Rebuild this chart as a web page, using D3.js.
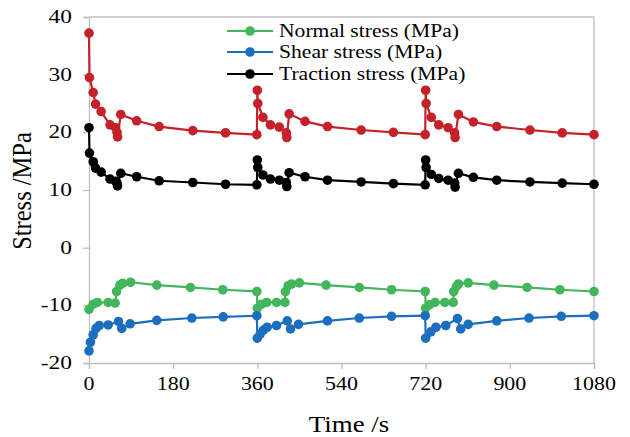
<!DOCTYPE html>
<html><head><meta charset="utf-8">
<script src="https://cdn.jsdelivr.net/npm/d3@7"></script>
<style>
body{margin:0;background:#fff}
text{font-family:"Liberation Serif","Times New Roman",serif;fill:#000}
</style>
</head><body>
<svg id="c" width="630" height="437"></svg>
<script>
const xTicks=[0,180,360,540,720,900,1080];
const yTicks=[-20,-10,0,10,20,30,40];
const legendLabels=["Normal stress (MPa)","Shear stress (MPa)","Traction stress (MPa)"];

const tRB=[0,1,9,14,26,45,57,60,61,68,102,150,222,292,359,
  360,361,372,388,407,422,423,428,462,510,582,651,719,
  720,721,732,748,768,782,783,790,822,872,943,1012,1080];
const red=[37.2,29.5,26.9,24.9,23.6,21.3,20.8,20.0,19.2,23.1,22.0,21.0,20.3,19.9,19.6,
  27.3,25.0,22.6,21.3,20.9,19.9,19.1,23.2,21.9,21.0,20.4,20.0,19.6,
  27.3,25.0,22.6,21.3,20.8,19.9,19.1,23.1,21.8,21.0,20.4,19.9,19.6];
const black=[20.8,16.4,14.9,13.8,13.1,11.9,11.5,11.2,10.7,12.9,12.3,11.6,11.3,11.0,10.9,
  15.2,13.9,12.6,11.9,11.7,11.3,10.6,13.0,12.3,11.7,11.4,11.1,10.9,
  15.2,13.9,12.7,12.0,11.7,11.2,10.5,12.9,12.2,11.7,11.4,11.2,11.0];

const tG=[0,9,18,41,56,59,66,72,89,145,217,286,359,
  360,369,380,401,419,420,426,433,450,507,578,647,719,
  720,728,740,761,779,780,786,790,811,866,937,1007,1080];
const green=[-10.7,-9.8,-9.5,-9.5,-9.6,-7.6,-6.5,-6.2,-6.0,-6.5,-6.9,-7.3,-7.6,
  -10.5,-9.8,-9.5,-9.5,-9.5,-7.6,-6.6,-6.3,-6.1,-6.5,-6.9,-7.3,-7.6,
  -10.5,-9.9,-9.5,-9.5,-9.5,-7.6,-6.7,-6.3,-6.1,-6.5,-6.9,-7.3,-7.6];

const tB=[0,3,9,15,22,41,63,70,88,145,220,287,359,
  360,366,373,381,401,424,431,448,510,578,647,719,
  720,731,742,763,788,795,811,872,941,1010,1080];
const blue=[-17.9,-16.4,-15.1,-14.0,-13.5,-13.4,-12.8,-14.0,-13.2,-12.6,-12.2,-12.0,-11.8,
  -15.7,-15.0,-14.3,-13.8,-13.5,-12.7,-14.1,-13.3,-12.7,-12.2,-11.9,-11.8,
  -15.7,-14.6,-13.8,-13.5,-12.3,-14.1,-13.3,-12.7,-12.2,-11.9,-11.8];

const C={red:"#C4212A",green:"#43B55A",blue:"#1C6EBF",black:"#000000"};
const series=[
  {t:tRB,v:red,c:C.red},
  {t:tRB,v:black,c:C.black},
  {t:tG,v:green,c:C.green},
  {t:tB,v:blue,c:C.blue}
];

const L=89,R=594,T=17,B=363;
const x=d3.scaleLinear().domain([0,1080]).range([L,R]);
const y=d3.scaleLinear().domain([-20,40]).range([B,T]);
const svg=d3.select("#c");
const axisCol="#BFBFBF";

svg.append("line").attr("x1",L).attr("x2",R).attr("y1",T).attr("y2",T).attr("stroke",axisCol).attr("stroke-width",1.3);
svg.append("line").attr("x1",R).attr("x2",R).attr("y1",T).attr("y2",B).attr("stroke",axisCol).attr("stroke-width",1.3);

const gx=svg.append("g").attr("transform",`translate(0,${B})`)
  .call(d3.axisBottom(x).tickValues(xTicks).tickSize(6).tickFormat(""));
const gy=svg.append("g").attr("transform",`translate(${L},0)`)
  .call(d3.axisLeft(y).tickValues(yTicks).tickSize(6).tickFormat(""));
[gx,gy].forEach(g=>{g.selectAll("path,line").attr("stroke",axisCol).attr("stroke-width",1.3);});

function stext(px,py,str,size,anchor,sx){
  const g=svg.append("g").attr("transform",`translate(${px},${py}) scale(${sx},1)`);
  g.append("text").attr("text-anchor",anchor).attr("dominant-baseline","central")
   .style("font-size",size+"px").text(str);
}
xTicks.forEach(v=>stext(x(v),384,d3.format("d")(v),18,"middle",1.22));
yTicks.forEach(v=>stext(72,y(v),String(v),18,"end",1.3));

stext(349,424,"Time /s",24,"middle",1.12);
svg.append("text").attr("transform",`translate(22,191) rotate(-90) scale(1.02,1.1)`)
  .attr("text-anchor","middle").attr("dominant-baseline","central")
  .style("font-size","24px").text("Stress /MPa");

const line=d3.line();
series.forEach(s=>{
  const pts=s.t.map((t,i)=>[x(t),y(s.v[i])]);
  svg.append("path").attr("d",line(pts)).attr("fill","none").attr("stroke",s.c).attr("stroke-width",2.2);
  svg.append("g").selectAll("circle").data(pts).join("circle")
    .attr("cx",d=>d[0]).attr("cy",d=>d[1]).attr("r",4.8).attr("fill",s.c);
});

const legC=[C.green,C.blue,C.black];
const legY=[31,52,74];
legendLabels.forEach((lab,i)=>{
  svg.append("line").attr("x1",227).attr("x2",273).attr("y1",legY[i]).attr("y2",legY[i]).attr("stroke",legC[i]).attr("stroke-width",2.2);
  svg.append("circle").attr("cx",250).attr("cy",legY[i]).attr("r",4.8).attr("fill",legC[i]);
  stext(279,legY[i],lab,18,"start",1.2);
});
</script>
</body></html>
